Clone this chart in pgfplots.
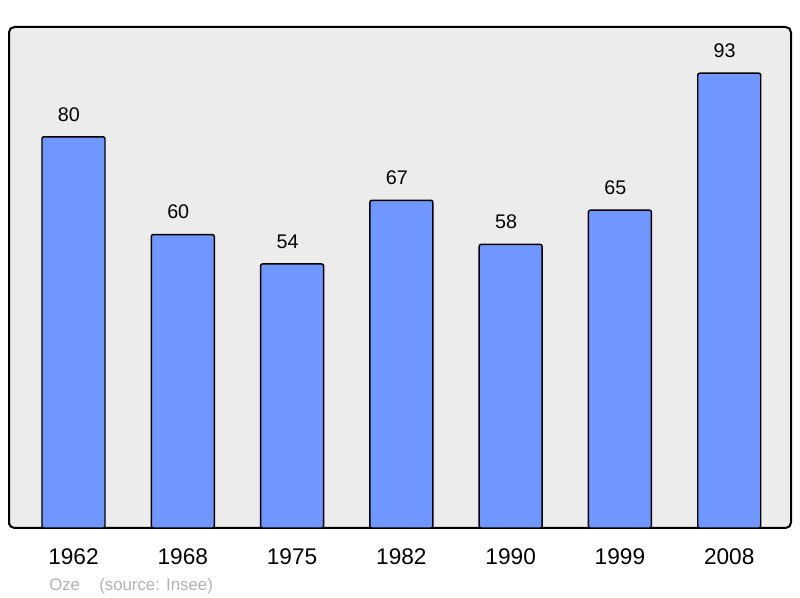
\documentclass[border=0pt]{standalone}
\usepackage{fontspec}
\setmainfont{Liberation Sans}
\usepackage{pgfplots}
\pgfplotsset{compat=1.18}
\definecolor{barblue}{RGB}{112,150,255}
\definecolor{bggray}{RGB}{236,236,236}
\definecolor{srcgray}{RGB}{178,178,178}
\begin{document}
\begin{tikzpicture}
\useasboundingbox (0,0) rectangle (600pt,448.5pt);
\begin{axis}[
  at={(6.75pt,52.5pt)}, anchor=south west,
  scale only axis, width=586.5pt, height=375.75pt,
  xmin=-0.59, xmax=6.565, ymin=0, ymax=102.45,
  xtick={0,1,2,3,4,5,6},
  xticklabels={1962,1968,1975,1982,1990,1999,2008},
  ytick=\empty,
  major tick length=0pt,
  /pgf/number format/assume math mode=true,
  axis background/.style={fill=bggray},
  axis line style={line width=1.5pt, rounded corners=4pt},
  tick label style={font=\fontsize{17}{20}\selectfont},
  xticklabel style={anchor=center, yshift=-21.5pt},
  ybar, bar width=47.25pt,
  nodes near coords,
  nodes near coords style={font=\fontsize{14.8}{17}\selectfont, anchor=center, yshift=16.8pt, xshift=-3.4pt, text=black},
  clip=false,
]
\addplot[fill=barblue, draw=black, line width=1.1pt, rounded corners=1.5pt] coordinates {
  (0,80) (1,60) (2,54) (3,67) (4,58) (5,65) (6,93)
};
\end{axis}
\node[anchor=base west, inner sep=0pt, text=srcgray, font=\fontsize{12.6}{14}\selectfont] at (36.75pt,5.6pt) {Oze};
\node[anchor=base west, inner sep=0pt, text=srcgray, font=\fontsize{12.6}{14}\selectfont] at (74.25pt,5.6pt) {(source: Insee)};
\end{tikzpicture}
\end{document}
